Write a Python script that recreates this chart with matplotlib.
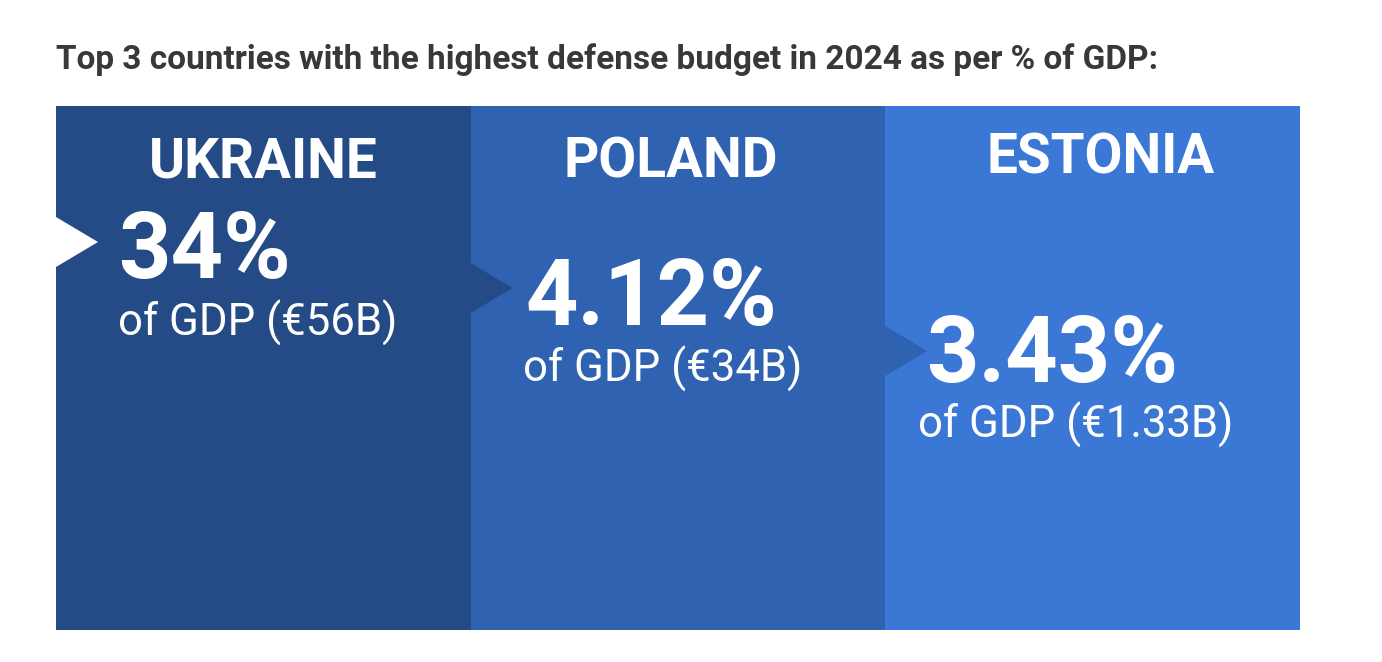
import matplotlib.pyplot as plt
from matplotlib.patches import Polygon

# Data
countries = ["UKRAINE", "POLAND", "ESTONIA"]
pct_labels = ["34%", "4.12%", "3.43%"]
gdp_labels = ["of GDP (€56B)", "of GDP (€34B)", "of GDP (€1.33B)"]
title = "Top 3 countries with the highest defense budget in 2024 as per % of GDP:"

# Styling / layout (pixels measured from the panel top-left)
colors = ["#244b86", "#2f62b0", "#3b78d6"]
arrow_colors = ["white", "#244b86", "#2f62b0"]
arrow_y = [136, 182, 245]
name_x = [207, 200, 215]
name_base = [71, 71, 68]
pct_x = [62, 55, 41]
pct_base = [172, 219, 276]
gdp_x = [62, 52, 33]
gdp_base = [230, 276, 332]

W, H = 1382, 662
px_left, px_top, px_w, px_h = 56, 106, 1244, 524
unit = px_w / 3  # pixels per bar

plt.rcParams["font.family"] = ["Roboto", "DejaVu Sans"]

fig = plt.figure(figsize=(W / 100, H / 100), dpi=100)
fig.patch.set_facecolor("white")

fig.text(px_left / W, 1 - 69 / H, title, fontsize=24, fontweight="bold",
         color="#383838", va="baseline", ha="left")

ax = fig.add_axes([px_left / W, 1 - (px_top + px_h) / H, px_w / W, px_h / H])
ax.set_xlim(-0.5, 2.5)
ax.set_ylim(px_h, 0)
ax.axis("off")

idx = list(range(len(countries)))
ax.bar(idx, [px_h] * len(idx), width=1.0, color=colors, bottom=0,
       linewidth=0, align="center")

for i in idx:
    left = i - 0.5
    aw = 42 / unit
    ah = 25
    tri = Polygon([(left, arrow_y[i] - ah), (left + aw, arrow_y[i]),
                   (left, arrow_y[i] + ah)], closed=True,
                  facecolor=arrow_colors[i], edgecolor="none", zorder=3)
    ax.add_patch(tri)
    ax.text(left + name_x[i] / unit, name_base[i], countries[i], color="white",
            fontsize=39.5, fontweight="bold", ha="center", va="baseline", zorder=4)
    ax.text(left + pct_x[i] / unit, pct_base[i], pct_labels[i], color="white",
            fontsize=66, fontweight="bold", ha="left", va="baseline", zorder=4)
    ax.text(left + gdp_x[i] / unit, gdp_base[i], gdp_labels[i], color="white",
            fontsize=31.5, ha="left", va="baseline", zorder=4)

fig.savefig("out.png", dpi=100, facecolor="white")
